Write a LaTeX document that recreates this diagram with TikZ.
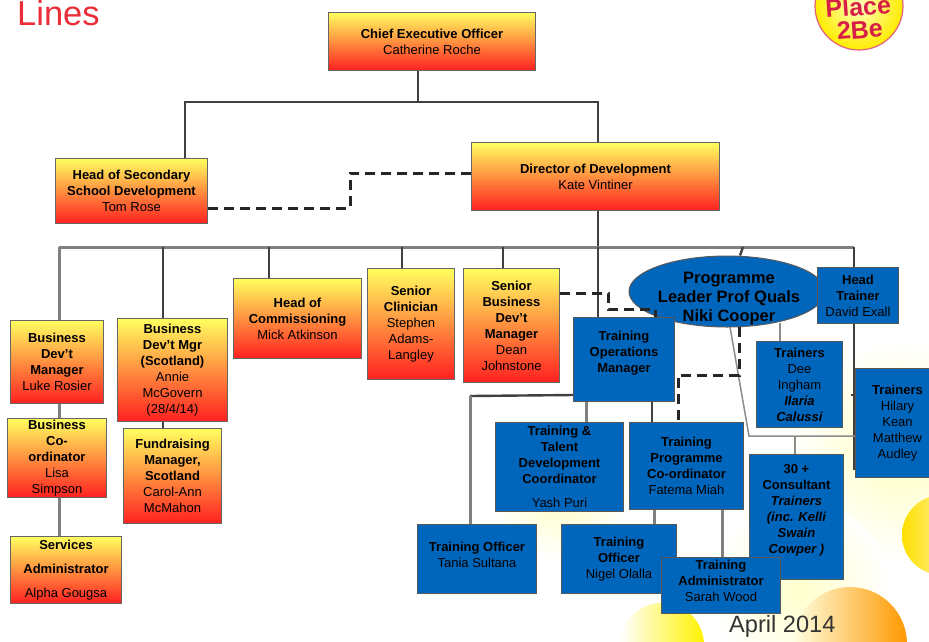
\documentclass[tikz,border=0pt]{standalone}
\usepackage{fontspec}
\setmainfont{Liberation Sans}
\usetikzlibrary{backgrounds,shapes.geometric}
\definecolor{boxblue}{RGB}{0,102,187}
\definecolor{hotyellow}{RGB}{255,255,95}
\definecolor{hotred}{RGB}{255,32,32}
\definecolor{logored}{RGB}{214,30,70}
\definecolor{titlered}{RGB}{235,45,55}
\tikzset{
  orgfont/.style={font=\fontsize{13}{16}\selectfont\bfseries,align=center,inner sep=0pt},
  hotbox/.style={orgfont,anchor=north west,draw=black!60,line width=1pt,top color=hotyellow,bottom color=hotred},
  bluebox/.style={orgfont,anchor=north west,draw=black!65,line width=1pt,fill=boxblue},
  solidline/.style={draw=black!75,line width=2.4pt},
  greyline/.style={draw=black!50,line width=3pt},
  thinline/.style={draw=black!45,line width=1.5pt},
  dashline/.style={draw=black!85,line width=3pt,dash pattern=on 10pt off 6pt},
  size/.style 2 args={minimum width=#1,minimum height=#2}
}
\newcommand{\nm}[1]{\textmd{#1}}
\begin{document}
\begin{tikzpicture}[x=1pt,y=-1pt]
\useasboundingbox (0,0) rectangle (929,641);
\begin{scope}[on background layer]
\clip (0,0) rectangle (929,641);
\shade[inner color=yellow!25,outer color=white] (900,450) circle (110);
\shade[inner color=yellow!20,outer color=white] (800,590) circle (90);
\shade[inner color=yellow!25,outer color=white] (560,490) circle (70);
\shade[left color=white,right color=yellow!90!orange] (662,645) circle (42);
\shade[left color=yellow!75!orange,middle color=yellow!10,right color=white] (942,535) circle (40);
\shade[left color=yellow!12,middle color=yellow!35,right color=orange!80!yellow] (850,644) circle (57);
\end{scope}
\node[font=\fontsize{34.5}{36}\selectfont,text=titlered,anchor=base west,inner sep=0pt] (lines) at (17,25) {Lines};
\node[circle,draw=logored!70,line width=1.2pt,shading=radial,inner color=yellow!25,outer color=yellow!85!orange,minimum size=88,inner sep=0pt] (logo) at (859,6) {};
\node[font=\fontsize{25}{23}\selectfont\bfseries,text=logored,align=center,inner sep=0pt,rotate=4] (logotext) at (859,18) {Place\\2Be};
\node[font=\fontsize{23.6}{26}\selectfont,text=black!80,anchor=base west,inner sep=0pt] (date) at (729,632) {April 2014};

\node[hotbox,size={207}{58}] (ceo) at (328,12) {Chief Executive Officer\\\nm{Catherine Roche}};
\node[hotbox,size={152}{65}] (sec) at (55,158) {Head of Secondary\\School Development\\\nm{Tom Rose}};
\node[hotbox,size={248}{68}] (dir) at (471,142) {Director of Development\\\nm{Kate Vintiner}};
\node[hotbox,size={93}{83}] (bdm) at (10,320) {Business\\Dev't\\Manager\\\nm{Luke Rosier}};
\node[hotbox,size={110}{103}] (scot) at (117,318) {Business\\Dev't Mgr\\(Scotland)\\\nm{Annie}\\\nm{McGovern}\\\nm{(28/4/14)}};
\node[hotbox,size={128}{80}] (comm) at (233,278) {Head of\\Commissioning\\\nm{Mick Atkinson}};
\node[hotbox,size={87}{111}] (clin) at (367,268) {Senior\\Clinician\\\nm{Stephen}\\\nm{Adams-}\\\nm{Langley}};
\node[hotbox,size={96}{114}] (sbdm) at (463,268) {Senior\\Business\\Dev't\\Manager\\\nm{Dean}\\\nm{Johnstone}};
\node[hotbox,size={99}{79}] (coord) at (7,418) {Business\\Co-\\ordinator\\\nm{Lisa}\\\nm{Simpson}};
\node[hotbox,size={98}{95}] (fund) at (123,428) {Fundraising\\Manager,\\Scotland\\\nm{Carol-Ann}\\\nm{McMahon}};
\node[hotbox,size={111}{67}] (serv) at (10,536) {Services\\[8pt]Administrator\\[8pt]\nm{Alpha Gougsa}};

\node[bluebox,size={119}{69}] (tania) at (417,524) {Training Officer\\\nm{Tania Sultana}\\[-7pt]\mbox{}};
\node[bluebox,size={115}{69}] (nigel) at (561,524) {Training\\Officer\\\nm{Nigel Olalla}};
\node[bluebox,size={94}{125}] (cons) at (749,454) {30 +\\Consultant\\\textit{Trainers}\\\textit{(inc. Kelli}\\\textit{Swain}\\\textit{Cowper )}\\\mbox{}};
\node[bluebox,size={119}{56}] (sarah) at (661,557) {Training\\Administrator\\\nm{Sarah Wood}\\[-7pt]\mbox{}};
\node[bluebox,size={128}{89}] (talent) at (495,422) {Training \&\\Talent\\Development\\Coordinator\\[8pt]\nm{Yash Puri}};
\node[bluebox,size={114}{87}] (prog) at (629,422) {Training\\Programme\\Co-ordinator\\\nm{Fatema Miah}};
\node[bluebox,size={86}{86}] (dee) at (756,341) {Trainers\\\nm{Dee}\\\nm{Ingham}\\\textit{Ilaria}\\\textit{Calussi}};
\node[bluebox,size={84}{109}] (hilary) at (855,368) {Trainers\\\nm{Hilary}\\\nm{Kean}\\\nm{Matthew}\\\nm{Audley}};
\node[ellipse,fill=boxblue,draw=black!65,line width=1pt,minimum width=196,minimum height=71,inner sep=0pt] (lead) at (727,291.5) {};
\node[orgfont,font=\fontsize{16.5}{19}\selectfont\bfseries] (leadtext) at (729,299) {Programme\\Leader Prof Quals\\Niki Cooper};
\node[bluebox,size={101}{84}] (ops) at (573,317) {Training\\Operations\\Manager\\\mbox{}};
\node[bluebox,size={81}{56}] (head) at (817,267) {Head\\Trainer\\\nm{David  Exall}};

\coordinate (busl) at (59,247);
\coordinate (busr) at (854,247);
\coordinate (topl) at (185,102);
\coordinate (topr) at (598,102);
\begin{scope}[on background layer]
% top of the chart
\draw[solidline] (ceo.south -| 418,0) -- (418,102);
\draw[solidline] (sec.north -| topl) -- (topl) -- (topr) -- (dir.north -| topr);
\draw[dashline] (sec.east |- 0,208) -- (350,208) -- (350,173) -- (dir.west |- 0,173);
\draw[solidline] (dir.south -| topr) -- (topr |- busl);
% bus
\draw[greyline] (busl) -- (busr);
\draw[greyline] (busl) -- (bdm.north -| busl);
\draw[greyline] (bdm.south -| busl) -- (coord.north -| busl);
\draw[greyline] (coord.south -| busl) -- (serv.north -| busl);
\draw[solidline] (scot.north -| 163,0) -- (163,247);
\draw[solidline] (scot.south -| 163,0) -- (fund.north -| 163,0);
\draw[solidline] (comm.north -| 269,0) -- (269,247);
\draw[solidline] (clin.north -| 402,0) -- (402,247);
\draw[solidline] (sbdm.north -| 503,0) -- (503,247);
\draw[solidline] (ops.north -| 598,0) -- (598,247);
\draw[solidline] (lead.north -| 740,0) -- (743,247);
\draw[solidline] (busr) -- (hilary.north -| busr) -- (854,470);
\draw[solidline] (851,395) -- (hilary.west |- 0,395);
% training team
\draw[solidline] (ops.west |- 0,395) -- (470,396);
\draw[greyline] (470,396) -- (tania.north -| 470,0);
\draw[greyline] (ops.south -| 586,0) -- (talent.north -| 586,0);
\draw[solidline] (ops.south -| 652,0) -- (prog.north -| 652,0);
\draw[greyline] (prog.south -| 654,0) -- (nigel.north -| 654,0);
\draw[greyline] (prog.south -| 722,0) -- (sarah.north -| 722,0);
\draw[thinline] (730,327) -- (749,436) -- (hilary.west |- 0,436);
\draw[thinline] (795,436) -- (cons.north -| 795,0);
\draw[thinline] (780,323) -- (dee.north -| 780,0);
\end{scope}
\draw[dashline] (sbdm.east |- 0,293) -- (608,293) -- (608,309) -- (655,309) -- (ops.north -| 655,0);
\draw[dashline] (739,327) -- (739,375) -- (678,375) -- (prog.north -| 678,0);
\end{tikzpicture}
\end{document}
